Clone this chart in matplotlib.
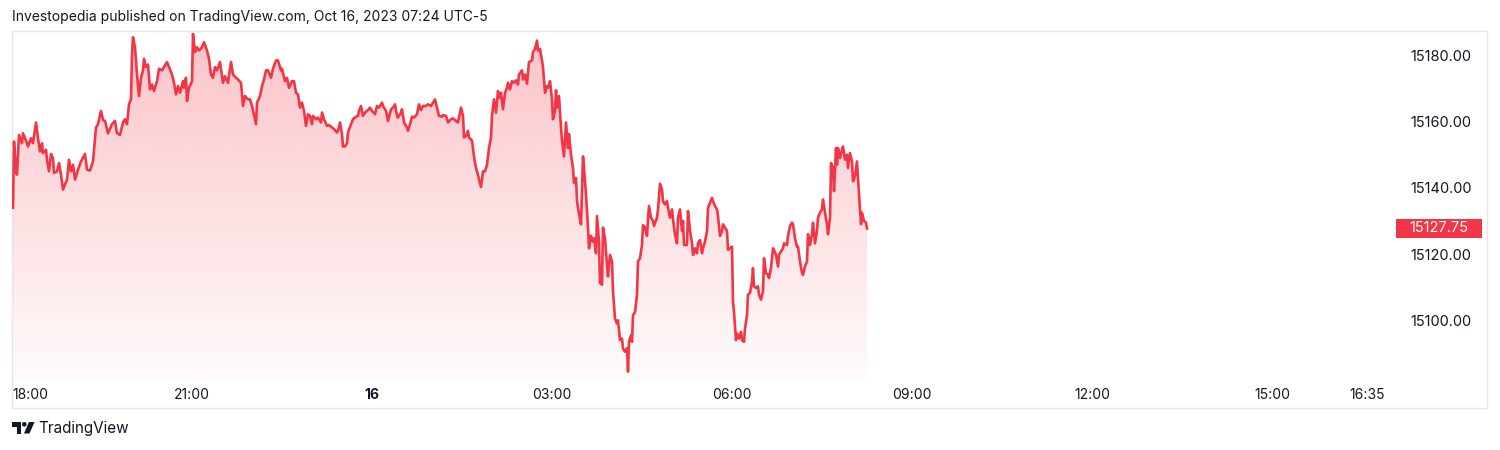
import numpy as np
import matplotlib.pyplot as plt
from matplotlib.patches import Rectangle, Polygon, Circle
from matplotlib.colors import to_rgb

# minutes after 18:00 (Oct 15) and last price
minutes = [
    1, 2, 4, 5, 7, 10, 11, 15, 16, 19, 21, 24, 26, 28, 30, 31, 34, 35, 37, 39,
    41, 42, 45, 47, 49, 51, 53, 55, 57, 59, 61, 63, 66, 69, 73, 75, 78, 81, 84, 86,
    89, 91, 93, 96, 100, 103, 105, 108, 111, 113, 115, 117, 119, 120, 121, 123, 125, 127, 129, 131,
    132, 134, 136, 138, 140, 142, 145, 147, 150, 152, 155, 157, 160, 162, 164, 166, 168, 171, 172, 174,
    175, 177, 180, 181, 183, 185, 187, 190, 192, 195, 197, 199, 201, 203, 205, 208, 211, 213, 216, 219,
    221, 224, 226, 229, 231, 233, 236, 238, 240, 242, 244, 245, 248, 250, 252, 254, 256, 259, 261, 264,
    266, 269, 270, 273, 275, 277, 280, 282, 284, 286, 288, 290, 292, 294, 296, 298, 300, 301, 304, 306,
    309, 310, 312, 315, 317, 320, 322, 325, 326, 328, 330, 331, 333, 335, 336, 339, 341, 344, 346, 347,
    349, 351, 353, 356, 358, 360, 363, 365, 367, 370, 371, 374, 376, 379, 381, 383, 385, 386, 389, 390,
    392, 395, 396, 398, 400, 402, 405, 407, 409, 411, 414, 416, 419, 421, 423, 425, 427, 430, 431, 434,
    436, 439, 441, 444, 446, 449, 451, 452, 454, 456, 457, 460, 462, 464, 466, 467, 469, 471, 473, 475,
    477, 479, 480, 482, 484, 486, 487, 489, 491, 493, 495, 496, 498, 500, 502, 504, 506, 507, 510, 511,
    513, 515, 517, 520, 521, 523, 525, 526, 528, 530, 531, 533, 535, 536, 538, 540, 541, 543, 544, 545,
    547, 549, 550, 552, 554, 556, 557, 559, 561, 562, 564, 565, 567, 569, 571, 572, 574, 576, 577, 579,
    581, 582, 584, 585, 587, 588, 590, 591, 593, 595, 596, 598, 600, 601, 603, 605, 606, 608, 610, 611,
    613, 615, 616, 617, 619, 620, 621, 623, 625, 626, 628, 630, 631, 633, 635, 636, 637, 639, 641, 642,
    645, 646, 648, 650, 651, 653, 655, 656, 658, 660, 661, 663, 665, 666, 668, 670, 671, 672, 675, 676,
    678, 680, 681, 683, 685, 686, 688, 690, 691, 693, 695, 696, 698, 700, 701, 703, 705, 706, 708, 710,
    711, 713, 715, 716, 718, 720, 721, 722, 724, 725, 727, 729, 730, 732, 733, 735, 736, 738, 740, 741,
    742, 744, 746, 747, 749, 751, 752, 754, 756, 757, 759, 761, 762, 764, 766, 767, 769, 771, 772, 775,
    776, 778, 780, 781, 783, 785, 786, 788, 790, 791, 793, 795, 796, 798, 800, 801, 803, 805, 806, 808,
    810, 811, 813, 815, 816, 818, 819, 821, 822, 824, 825, 826, 828, 830, 831, 833, 835, 836, 838, 840,
    841, 843, 845, 847, 849, 850, 852, 854, 855,
]
prices = [
    15134, 15154, 15145, 15144, 15156, 15153.5, 15156.5, 15153.5, 15152.5, 15155,
    15153.5, 15159.75, 15155, 15151, 15153.5, 15150.5, 15151.5, 15148.5, 15145, 15150.25,
    15149, 15144.5, 15145, 15147.5, 15144, 15139.5, 15141, 15142.5, 15148.5, 15145,
    15147, 15142.5, 15145.5, 15148, 15150.25, 15145.5, 15145.25, 15148, 15158.25, 15159.25,
    15163.25, 15160.5, 15160.25, 15156.5, 15159.25, 15160.25, 15156.5, 15156, 15159.75, 15160.75,
    15159.25, 15165.25, 15166.75, 15180.5, 15185.5, 15182.5, 15174.25, 15167.75, 15173.25, 15175.5,
    15179, 15176.5, 15177.25, 15169.75, 15171.25, 15169.25, 15172.25, 15176, 15175.5, 15176.5,
    15178, 15176.5, 15174.25, 15171.75, 15168.25, 15170.75, 15168.75, 15172.25, 15170.25, 15173.25,
    15166.25, 15170.25, 15172.25, 15186.5, 15181, 15182.5, 15181.5, 15182.5, 15184, 15181.5,
    15179, 15174.25, 15173.25, 15176.5, 15175.5, 15178, 15171.75, 15173.75, 15171.75, 15178,
    15174.25, 15173.25, 15172.75, 15171.75, 15164.75, 15167.75, 15166.75, 15166.75, 15164.75, 15162,
    15159.25, 15165.75, 15167.75, 15170.75, 15172.75, 15175.5, 15175.5, 15173.25, 15176, 15178.5,
    15178.5, 15175.5, 15176, 15172.25, 15173.25, 15170.25, 15172.25, 15172.25, 15168.75, 15168.25,
    15164.25, 15165.75, 15163.25, 15158.75, 15162.25, 15161.75, 15159.25, 15161.75, 15160.75, 15161.25,
    15159.75, 15162.75, 15160.75, 15158.75, 15159, 15158.25, 15157.75, 15156.75, 15157.25, 15159.75,
    15156.25, 15152.5, 15152.5, 15153.5, 15156.75, 15159.25, 15160.75, 15161.5, 15161.75, 15163.25,
    15164.75, 15161.75, 15162.75, 15163.5, 15164.25, 15163.25, 15162.25, 15164.75, 15164.25, 15165.75,
    15164.75, 15163.25, 15160.25, 15163.75, 15164.25, 15165.25, 15161.75, 15161.25, 15162.75, 15163.75,
    15159.75, 15158.25, 15157.25, 15159.25, 15161.5, 15161.25, 15162.25, 15165.25, 15163.5, 15164.75,
    15164.75, 15165.25, 15164.75, 15165.75, 15166.75, 15164.25, 15161.75, 15161.5, 15162, 15161.75,
    15159.75, 15160.75, 15161, 15160.25, 15159.75, 15164.25, 15161.75, 15155.25, 15155.75, 15157.25,
    15155.25, 15154.25, 15149.5, 15146, 15144, 15142.5, 15140.25, 15145, 15145, 15147,
    15152, 15155.25, 15161.75, 15166.75, 15162.75, 15169.25, 15167.25, 15168.75, 15163.75, 15168.75,
    15170.25, 15171.75, 15169.75, 15172.25, 15171.75, 15172.5, 15171.25, 15174.25, 15175.5, 15172.75,
    15174.25, 15171.5, 15178, 15178.5, 15181, 15182, 15184.5, 15181.5, 15182, 15178.5,
    15176.5, 15168.75, 15170.75, 15170.25, 15172.25, 15166.75, 15160.75, 15163.25, 15169.5, 15164.25,
    15167.75, 15158.25, 15154.25, 15149.5, 15159.75, 15152, 15156.25, 15150, 15146, 15141.5,
    15143, 15136, 15132, 15129, 15149.5, 15146, 15138, 15128, 15121.75, 15125.5,
    15123.75, 15124.75, 15120.25, 15131.5, 15123.75, 15111.25, 15110.75, 15128, 15124.75, 15116.75,
    15113.25, 15119.75, 15117.75, 15108.75, 15100.5, 15099, 15100, 15094, 15094.5, 15091.5,
    15090.5, 15091.5, 15084.5, 15093.5, 15095.5, 15093.5, 15101.5, 15102.5, 15107.75, 15117.75,
    15118.75, 15122.75, 15128.75, 15128, 15125.5, 15130.5, 15134.5, 15131, 15130, 15128.5,
    15131, 15133.5, 15141.25, 15139.5, 15136, 15135, 15136, 15134, 15131, 15133.5,
    15130.5, 15126, 15123.25, 15131, 15133.5, 15127, 15130, 15122.75, 15122.75, 15133,
    15127, 15123.25, 15119.75, 15121.75, 15120.25, 15123.25, 15124.25, 15120.25, 15121.75, 15123.75,
    15127, 15134, 15135.5, 15137, 15136, 15134.5, 15133.5, 15131.5, 15125.5, 15127,
    15129, 15128, 15127, 15121.25, 15121.75, 15122.25, 15105.75, 15102.5, 15094, 15096,
    15094.5, 15096.5, 15094, 15093.5, 15097.5, 15101.5, 15107.75, 15108.25, 15111.75, 15115.75,
    15110.25, 15109.75, 15110.25, 15107.75, 15106.25, 15108.75, 15118.75, 15114.25, 15113.75, 15112.75,
    15115.75, 15121.75, 15121.25, 15119.75, 15116.25, 15119.75, 15120.75, 15121.75, 15123.25, 15122.75,
    15125.5, 15128.5, 15129.5, 15129, 15124.75, 15122.25, 15122.25, 15117.75, 15114.25, 15113.75,
    15116.25, 15117.75, 15126, 15122.75, 15126, 15129.5, 15123.25, 15127, 15131, 15132.5,
    15133.5, 15136.5, 15132.5, 15129, 15126, 15131, 15147.5, 15146, 15139, 15152,
    15147, 15152, 15149, 15151.5, 15152.5, 15148.5, 15150, 15146, 15150.5, 15148,
    15142, 15143.5, 15148, 15138, 15129, 15132.5, 15130, 15129.5, 15127.75,
]
last_price = 15127.75

price_ticks = [15100, 15120, 15140, 15160, 15180]
time_ticks = [0, 180, 360, 540, 720, 900, 1080, 1260, 1355]
time_labels = ['18:00', '21:00', '16', '03:00', '06:00', '09:00', '12:00', '15:00', '16:35']
title = 'Investopedia published on TradingView.com, Oct 16, 2023 07:24 UTC-5'

RED = '#f23645'
TEXT = '#131722'
BORDER = '#e6e7ea'

plt.rcParams['font.family'] = ['Inter', 'DejaVu Sans']

W, H = 1500, 450
fig = plt.figure(figsize=(15, 4.5), dpi=100)

# background axes in pixel coords for frame, header and footer
bg = fig.add_axes([0, 0, 1, 1])
bg.set_xlim(0, W)
bg.set_ylim(H, 0)
bg.axis('off')
bg.add_patch(Rectangle((12, 31), 1475, 377, fill=False, edgecolor=BORDER, lw=1))
bg.text(12, 17, title, fontsize=10, color=TEXT, ha='left', va='center')

# TradingView logo + name
bg.add_patch(Polygon([(12, 422), (21, 422), (21, 433.5), (16.5, 433.5), (16.5, 426.5), (12, 426.5)],
                     closed=True, color=TEXT, lw=0))
bg.add_patch(Circle((24.3, 424.3), 2.3, color=TEXT, lw=0))
bg.add_patch(Polygon([(29, 422), (34.5, 422), (29.5, 433.5), (24, 433.5)], closed=True, color=TEXT, lw=0))
bg.text(38, 429, 'TradingView', fontsize=11, color=TEXT, ha='left', va='center')

# price pane
left, right, top, bottom = 12, 1392, 31, 380
ax = fig.add_axes([left / W, 1 - bottom / H, (right - left) / W, (bottom - top) / H])
y0, y1 = 15081.96, 15187.4

ax.plot(minutes, prices, color=RED, lw=1.9, solid_joinstyle='round', zorder=3)
area = ax.fill_between(minutes, prices, y0, color='none', lw=0)
grad = np.zeros((256, 1, 4))
grad[..., :3] = to_rgb(RED)
grad[..., 3] = np.linspace(0.30, 0.02, 256)[:, None]
img = ax.imshow(grad, extent=[0, 1380, y0, y1], aspect='auto', origin='upper', zorder=1)
img.set_clip_path(area.get_paths()[0], transform=ax.transData)

ax.set_xlim(0, 1380)
ax.set_ylim(y0, y1)
for s in ax.spines.values():
    s.set_visible(False)
ax.set_facecolor('none')

ax.yaxis.tick_right()
ax.set_yticks(price_ticks)
ax.set_yticklabels([f'{p:.2f}' for p in price_ticks])
ax.tick_params(axis='y', length=0, pad=13, labelsize=10.5, labelcolor=TEXT)

ax.set_xticks(time_ticks)
ax.set_xticklabels(time_labels)
ax.tick_params(axis='x', length=0, pad=6, labelsize=10, labelcolor=TEXT)
xl = ax.get_xticklabels()
xl[0].set_ha('left')
xl[2].set_fontweight('bold')

# last price tag on the price scale
ytr = ax.get_yaxis_transform()
ax.add_patch(Rectangle((1.003, last_price - 3.0), 0.0625, 6.0, transform=ytr,
                       facecolor=RED, edgecolor='none', clip_on=False, zorder=5))
ax.text(1.0123, last_price, f'{last_price:.2f}', transform=ytr, color='white',
        fontsize=10.5, ha='left', va='center', zorder=6, clip_on=False)

fig.savefig('out.png', dpi=100, facecolor='white')
